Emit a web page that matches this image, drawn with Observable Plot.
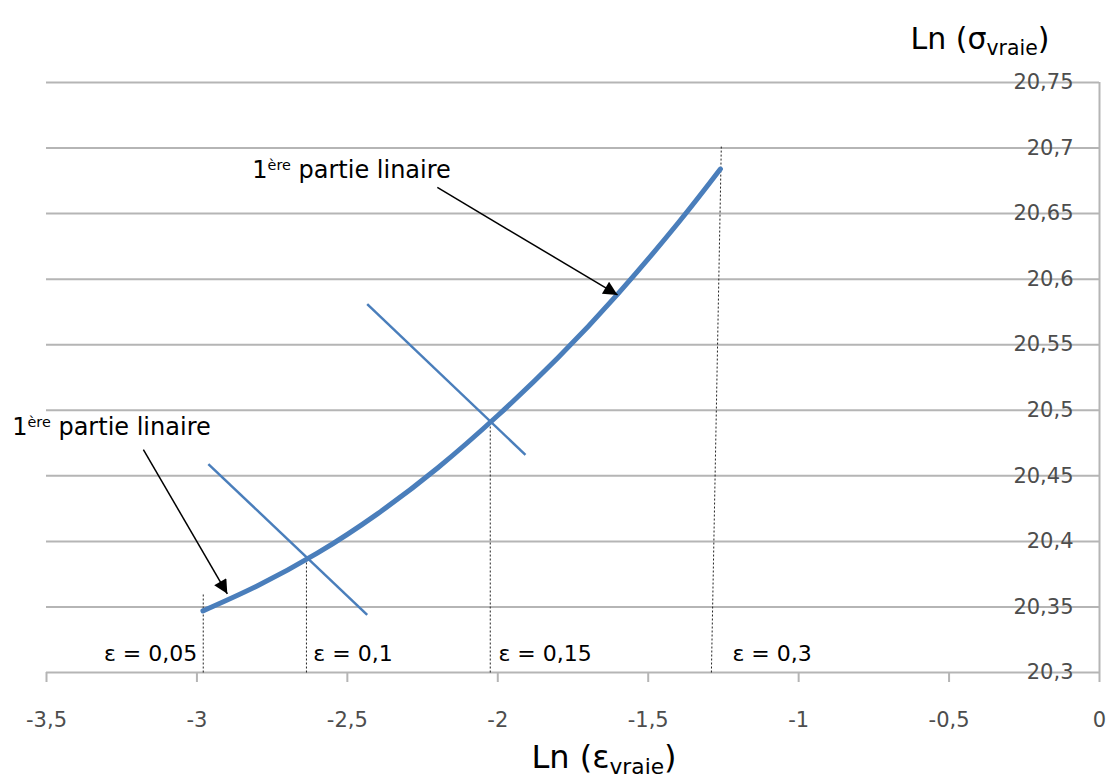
<!DOCTYPE html>
<html><head><meta charset="utf-8">
<script src="https://cdn.jsdelivr.net/npm/d3@7"></script>
<script src="https://cdn.jsdelivr.net/npm/@observablehq/plot@0.6"></script>
<style>body{margin:0;background:#fff}</style>
</head><body><div id="chart"></div>
<script>
// Main curve: Ln(true strain) vs Ln(true stress)
const curveX = [-2.98, -2.8, -2.6, -2.4, -2.2, -2.0, -1.8, -1.6, -1.4, -1.26];
const curveY = [20.347, 20.366, 20.391, 20.421, 20.456, 20.496, 20.540, 20.589, 20.643, 20.684];

// Two crossing straight segments
const tanX1 = [-2.962, -2.434];
const tanY1 = [20.459, 20.581];
const tanX2 = [-2.434, -1.908];
const tanY2 = [20.344, 20.466];

// Dotted reference lines (ε markers)
const dotX1 = [-2.979, -2.636, -2.025, -1.290];
const dotY1 = [20.3, 20.3, 20.3, 20.3];
const dotX2 = [-2.979, -2.636, -2.025, -1.257];
const dotY2 = [20.36, 20.388, 20.491, 20.702];

// ε labels
const epsText = ["ε = 0,05", "ε = 0,1", "ε = 0,15", "ε = 0,3"];
const epsX = [-2.999, -2.613, -1.998, -1.220];
const epsY = [20.3145, 20.3145, 20.3145, 20.3145];
const epsAnchor = ["end", "start", "start", "start"];

// Annotations with arrows
const noteText = ["1ère partie linaire", "1ère partie linaire"];
const noteX = [-2.816, -3.614];
const noteY = [20.683, 20.487];
const arrX1 = [-2.201, -3.178];
const arrY1 = [20.670, 20.470];
const arrX2 = [-1.602, -2.899];
const arrY2 = [20.588, 20.360];

// Ticks
const xTicks = [-3.5, -3, -2.5, -2, -1.5, -1, -0.5, 0];
const yTicks = [20.3, 20.35, 20.4, 20.45, 20.5, 20.55, 20.6, 20.65, 20.7, 20.75];

const curve = curveX.map((x, i) => ({x, y: curveY[i]}));
const tangents = tanX1.map((x1, i) => ({x1, y1: tanY1[i], x2: tanX2[i], y2: tanY2[i]}));
const dots = dotX1.map((x1, i) => ({x1, y1: dotY1[i], x2: dotX2[i], y2: dotY2[i]}));
const eps = epsText.map((t, i) => ({t, x: epsX[i], y: epsY[i], a: epsAnchor[i]}));
const notes = noteText.map((t, i) => ({t, x: noteX[i], y: noteY[i]}));
const arrows = arrX1.map((x1, i) => ({x1, y1: arrY1[i], x2: arrX2[i], y2: arrY2[i]}));

const fmt = d => String(d).replace(".", ",");
const FONT = "DejaVu Sans";

const chart = Plot.plot({
  width: 1109, height: 781,
  marginLeft: 46, marginRight: 10, marginTop: 82, marginBottom: 109,
  style: {fontFamily: FONT, fontSize: "21px", background: "#fff", overflow: "visible"},
  x: {domain: [-3.5, 0], label: null},
  y: {domain: [20.3, 20.75], label: null},
  marks: [
    Plot.ruleY(yTicks, {stroke: "#b5b5b5", strokeWidth: 2}),
    Plot.ruleX([0], {y1: 20.3, y2: 20.75, stroke: "#b5b5b5", strokeWidth: 2}),
    Plot.axisX({ticks: xTicks, tickFormat: fmt, tickSize: 10, tickPadding: 30, stroke: "#b5b5b5", strokeWidth: 2, fill: "#4d4d4d", fontSize: 21, label: null}),
    Plot.axisY({anchor: "right", ticks: yTicks, tickFormat: fmt, tickSize: 0, tickPadding: -26, textAnchor: "end", fill: "#4d4d4d", fontSize: 21, label: null}),
    Plot.link(dots, {x1: "x1", y1: "y1", x2: "x2", y2: "y2", stroke: "#222", strokeWidth: 1, strokeDasharray: "2,2"}),
    Plot.link(tangents, {x1: "x1", y1: "y1", x2: "x2", y2: "y2", stroke: "#4a7ebb", strokeWidth: 2.5}),
    Plot.line(curve, {x: "x", y: "y", curve: "natural", stroke: "#4a7ebb", strokeWidth: 5}),
    Plot.link(arrows, {x1: "x1", y1: "y1", x2: "x2", y2: "y2", stroke: "#000", strokeWidth: 1.5, className: "arrows"}),
    Plot.text(eps.filter(d => d.a === "end"), {x: "x", y: "y", text: "t", textAnchor: "end", fill: "#000", fontSize: 22}),
    Plot.text(eps.filter(d => d.a === "start"), {x: "x", y: "y", text: "t", textAnchor: "start", fill: "#000", fontSize: 22}),
    Plot.text(notes, {x: "x", y: "y", text: "t", textAnchor: "start", fill: "#000", fontSize: 24, className: "notes"}),
    Plot.text(["Ln (σvraie)"], {frameAnchor: "top", dx: 407, dy: -55, fontSize: 30, fill: "#000", className: "ttop"}),
    Plot.text(["Ln (εvraie)"], {frameAnchor: "bottom", dx: 31, dy: 95, fontSize: 32, fill: "#000", className: "tbot"})
  ]
});

const svg = d3.select(chart);
// filled triangle arrowheads
svg.append("defs").append("marker")
  .attr("id", "tri").attr("viewBox", "0 0 10 10").attr("refX", 10).attr("refY", 5)
  .attr("markerWidth", 17).attr("markerHeight", 14).attr("markerUnits", "userSpaceOnUse")
  .attr("orient", "auto")
  .append("path").attr("d", "M0,0L10,5L0,10Z").attr("fill", "#000");
svg.selectAll("g.arrows path, g.arrows line").attr("marker-end", "url(#tri)");

// superscripts
svg.selectAll("g.notes text").each(function() {
  const t = d3.select(this);
  t.text("");
  t.append("tspan").text("1");
  t.append("tspan").attr("font-size", "0.6em").attr("dy", "-0.55em").text("ère");
  t.append("tspan").attr("dy", "0.33em").text(" partie linaire");
});
// subscripts
function sub(cls, base) {
  svg.selectAll(`g.${cls} text`).each(function() {
    const t = d3.select(this);
    t.text("");
    t.append("tspan").text("Ln (" + base);
    t.append("tspan").attr("font-size", "0.68em").attr("dy", "0.3em").text("vraie");
    t.append("tspan").attr("dy", "-0.2em").text(")");
  });
}
sub("ttop", "σ");
sub("tbot", "ε");

document.getElementById("chart").appendChild(chart);
</script>
</body></html>
